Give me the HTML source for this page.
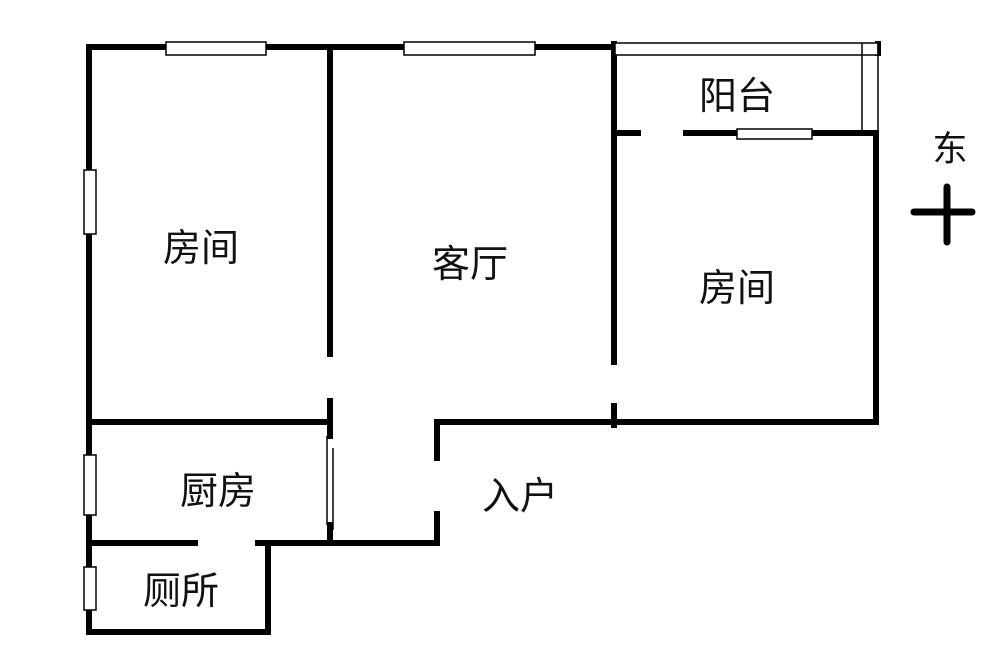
<!DOCTYPE html>
<html><head><meta charset="utf-8"><style>
html,body{margin:0;padding:0;background:#fff;width:1000px;height:670px;overflow:hidden}
text{font-family:"Liberation Sans","Noto Sans CJK SC",sans-serif;font-size:38px;fill:#111}
</style></head><body>
<svg width="1000" height="670" viewBox="0 0 1000 670" xmlns="http://www.w3.org/2000/svg">
<g stroke="#000" stroke-width="6" stroke-linecap="square" fill="none">
<line x1="89" y1="47" x2="614" y2="47"/>
<line x1="89" y1="47" x2="89" y2="632"/>
<line x1="89" y1="632" x2="268" y2="632"/>
<line x1="268" y1="543" x2="268" y2="632"/>
<line x1="89" y1="543" x2="195" y2="543"/>
<line x1="258" y1="543" x2="437" y2="543"/>
<line x1="89" y1="422" x2="330" y2="422"/>
<line x1="330" y1="47" x2="330" y2="354"/>
<line x1="330" y1="401" x2="330" y2="436"/>
<line x1="330" y1="525" x2="330" y2="543"/>
<line x1="437" y1="422" x2="876" y2="422"/>
<line x1="437" y1="422" x2="437" y2="458"/>
<line x1="437" y1="514" x2="437" y2="543"/>
<line x1="614" y1="44" x2="614" y2="362"/>
<line x1="614" y1="406" x2="614" y2="425"/>
<line x1="614" y1="133" x2="638" y2="133"/>
<line x1="686" y1="133" x2="876" y2="133"/>
<line x1="876" y1="133" x2="876" y2="422"/>
<line x1="878" y1="44" x2="878" y2="53"/>
</g>
<g stroke="#000" stroke-width="7" stroke-linecap="round">
<line x1="914" y1="212" x2="972" y2="212"/>
<line x1="947" y1="187" x2="947" y2="242"/>
</g>
<g stroke="#000" stroke-width="1.5" fill="#fff">
<rect x="166" y="42" width="100" height="13"/>
<rect x="404" y="42" width="131" height="13"/>
<rect x="737" y="129" width="75" height="10"/>
<rect x="84" y="170" width="12" height="64"/>
<rect x="84" y="455" width="12" height="60"/>
<rect x="84" y="567" width="12" height="43"/>
<rect x="615" y="43" width="263" height="12"/>
<line x1="862" y1="43" x2="862" y2="130"/>
<line x1="878" y1="43" x2="878" y2="130"/>
<line x1="327" y1="436" x2="327" y2="525"/>
<line x1="333" y1="448" x2="333" y2="530"/>
</g>
<text x="201" y="261" text-anchor="middle">房间</text>
<text x="470" y="277" text-anchor="middle">客厅</text>
<text x="737" y="301" text-anchor="middle">房间</text>
<text x="737" y="109" text-anchor="middle">阳台</text>
<text x="218" y="504" text-anchor="middle">厨房</text>
<text x="520" y="509" text-anchor="middle">入户</text>
<text x="181" y="604" text-anchor="middle">厕所</text>
<text x="950" y="161" text-anchor="middle" style="font-size:35px">东</text>
</svg>
</body></html>
